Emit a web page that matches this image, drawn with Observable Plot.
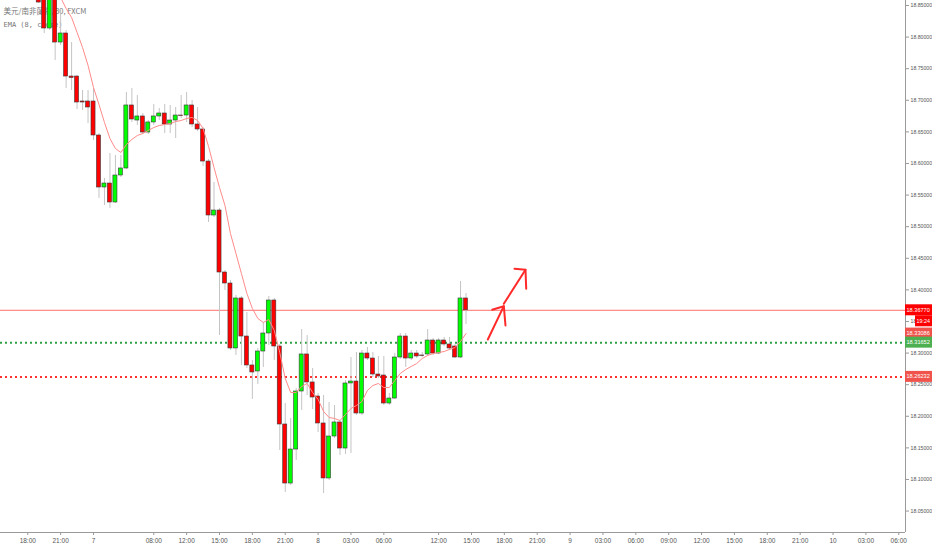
<!DOCTYPE html>
<html><head><meta charset="utf-8">
<script src="https://cdn.jsdelivr.net/npm/d3@7"></script>
<script src="https://cdn.jsdelivr.net/npm/@observablehq/plot@0.6"></script>
<style>
html,body{margin:0;padding:0;background:#fff;}
#chart{width:932px;height:550px;overflow:hidden;}
</style></head><body><div id="chart"></div>
<script>
// ---- data (30-minute candles, USD/ZAR) ----
const idx = d3.range(-1, 78);
const open = [
18.8737,18.8816,18.8136,18.8706,18.7914,18.8057,18.7376,18.7376,18.6981,18.6981,
18.6981,18.6443,18.5620,18.5683,18.5383,18.5810,18.5921,18.6918,18.6680,18.6744,
18.6490,18.6649,18.6744,18.6791,18.6617,18.6680,18.6759,18.6759,18.6918,18.6617,
18.6538,18.6031,18.5177,18.5256,18.4275,18.4101,18.3073,18.3864,18.3262,18.2804,
18.2709,18.3025,18.3310,18.3832,18.3104,18.1870,18.0936,18.1474,18.2392,18.2978,
18.2535,18.2313,18.1886,18.1016,18.1680,18.1902,18.1490,18.2519,18.2550,18.2044,
18.2993,18.2914,18.2661,18.2645,18.2202,18.2281,18.2930,18.3262,18.2914,18.2993,
18.2962,18.2978,18.3199,18.2993,18.3199,18.3136,18.3104,18.2930,18.3864];
const close = [
18.8547,18.8136,18.8706,18.7914,18.8057,18.7376,18.7353,18.6965,18.6965,18.6886,
18.6443,18.5620,18.5683,18.5383,18.5810,18.5921,18.6918,18.6696,18.6744,18.6490,
18.6649,18.6744,18.6791,18.6617,18.6680,18.6759,18.6751,18.6918,18.6617,18.6538,
18.6031,18.5177,18.5256,18.4275,18.4101,18.3073,18.3864,18.3262,18.2804,18.2693,
18.3025,18.3310,18.3832,18.3104,18.1870,18.0936,18.1474,18.2392,18.2978,18.2535,
18.2297,18.1886,18.1016,18.1680,18.1902,18.1490,18.2519,18.2550,18.2044,18.2993,
18.2914,18.2661,18.2630,18.2202,18.2281,18.2930,18.3262,18.2914,18.2993,18.2946,
18.2954,18.3199,18.2993,18.3199,18.3136,18.3073,18.2930,18.3864,18.3677];
const high = [
18.8769,18.8895,18.8769,18.8737,18.8421,18.8104,18.7914,18.7392,18.7155,18.7155,
18.7187,18.6475,18.5763,18.6158,18.6126,18.6126,18.7123,18.7187,18.7076,18.6791,
18.6680,18.6933,18.6870,18.6933,18.6918,18.6886,18.7076,18.7123,18.6997,18.6886,
18.6569,18.6063,18.5699,18.5288,18.4307,18.4149,18.3911,18.3895,18.3642,18.2883,
18.3073,18.3484,18.3895,18.3864,18.3136,18.2202,18.1965,18.2440,18.3373,18.3278,
18.2756,18.2361,18.2329,18.2218,18.2171,18.1933,18.2566,18.2930,18.3009,18.3041,
18.3088,18.3009,18.2946,18.2946,18.2361,18.2993,18.3310,18.3310,18.3041,18.3041,
18.3009,18.3373,18.3231,18.3231,18.3247,18.3247,18.3136,18.4133,18.3943];
const low = [
18.8532,18.8057,18.8104,18.7630,18.7867,18.7187,18.7155,18.6854,18.6838,18.6633,
18.6364,18.5446,18.5335,18.5288,18.5367,18.5778,18.5905,18.6649,18.6601,18.6459,
18.6459,18.6601,18.6680,18.6475,18.6475,18.6395,18.6712,18.6649,18.6569,18.6506,
18.5952,18.5066,18.5145,18.3278,18.3990,18.3041,18.2962,18.2804,18.2756,18.2266,
18.2503,18.2772,18.3120,18.2883,18.1459,18.0794,18.0905,18.1300,18.2092,18.2329,
18.2107,18.1743,18.0778,18.0984,18.1649,18.1380,18.1395,18.1411,18.2012,18.2012,
18.2883,18.2614,18.2598,18.2171,18.2171,18.2266,18.2899,18.2772,18.2883,18.2914,
18.2930,18.2946,18.2962,18.2978,18.3104,18.3041,18.2914,18.2914,18.3452];
// EMA (8, close) as drawn, starting at candle index 2
const emaFirst = 2;
const ema = [
18.8737,18.8626,18.8452,18.8310,18.8073,18.7835,18.7551,18.7202,18.6933,18.6649,
18.6395,18.6237,18.6174,18.6300,18.6380,18.6443,18.6475,18.6522,18.6569,18.6601,
18.6617,18.6633,18.6664,18.6680,18.6712,18.6728,18.6680,18.6554,18.6269,18.5937,
18.5620,18.5335,18.4892,18.4576,18.4259,18.3943,18.3706,18.3547,18.3484,18.3531,
18.3357,18.3009,18.2598,18.2376,18.2376,18.2471,18.2519,18.2376,18.2266,18.2076,
18.1981,18.1965,18.1933,18.2028,18.2123,18.2171,18.2234,18.2408,18.2487,18.2519,
18.2455,18.2455,18.2566,18.2677,18.2740,18.2788,18.2835,18.2914,18.2962,18.2993,
18.3009,18.3025,18.3057,18.3088,18.3183,18.33086];
// horizontal levels
const lastPrice = 18.36770;
const greenLevel = 18.31652;
const redLevel = 18.26232;
const countdown = "19:24";
// time axis (candle index -> label)
const xTickIdx = [-3,3,9,20,26,32,38,44,50,56,62,72,78,84,90,96,102,108,114,120,126,132,138,144,150,156];
const xTickLabels = ["18:00","21:00","7","08:00","12:00","15:00","18:00","21:00","8","03:00","06:00","12:00","15:00","18:00","21:00","9","03:00","06:00","09:00","12:00","15:00","18:00","21:00","10","03:00","06:00"];
const yTicks = d3.range(0, 17).map(k => +(18.05 + k * 0.05).toFixed(2));
const xDomain = [-7.98, 157.23];
const yDomain = [18.0161, 18.8579];
const legendLines = ["美元/南非蘭特, 30, FXCM", "EMA (8, close)"];
// hand-drawn arrows (candle index, price)
const arrowPts = [
  {g:"s1", i:80.98, p:18.3215}, {g:"s1", i:83.90, p:18.3742},
  {g:"h1", i:81.78, p:18.3685}, {g:"h1", i:83.90, p:18.3742}, {g:"h1", i:84.21, p:18.3437},
  {g:"s2", i:83.90, p:18.3780}, {g:"s2", i:87.86, p:18.4318},
  {g:"h2", i:85.85, p:18.4334}, {g:"h2", i:87.86, p:18.4318}, {g:"h2", i:87.99, p:18.4017}
];

// ---- build ----
const candles = idx.map((i, k) => ({i, o: open[k], h: high[k], l: low[k], c: close[k]}));
const emaData = ema.map((v, k) => ({i: emaFirst + k, v}));
const labelMap = new Map(xTickIdx.map((v, k) => [v, xTickLabels[k]]));
const FONT = "'Liberation Sans',sans-serif";
const UP = "#00ff00", DOWN = "#ff0000";

const chart = Plot.plot({
  width: 932, height: 550,
  marginLeft: 0, marginRight: 27, marginTop: 0, marginBottom: 18,
  style: {background: "#fff", fontFamily: FONT, color: "#555"},
  x: {domain: xDomain, label: null},
  y: {domain: yDomain, label: null},
  marks: [
    Plot.text([legendLines[0]], {frameAnchor: "top-left", dx: 3, dy: 8, fontSize: 7.5, fill: "#777", fontFamily: "'Noto Sans CJK TC','Liberation Sans',sans-serif"}),
    Plot.text([legendLines[1]], {frameAnchor: "top-left", dx: 3, dy: 21.5, fontSize: 7, fill: "#777", fontFamily: "'DejaVu Sans Mono',monospace"}),
    Plot.ruleY([lastPrice], {stroke: "#ff7070", strokeWidth: 1}),
    Plot.ruleY([greenLevel], {stroke: "#2ea043", strokeWidth: 2, strokeDasharray: "2,3"}),
    Plot.ruleY([redLevel], {stroke: "#ff3030", strokeWidth: 2, strokeDasharray: "2,3"}),
    Plot.ruleX(candles, {x: "i", y1: "l", y2: "h", stroke: "#c4c4c4", strokeWidth: 1, clip: true}),
    Plot.rect(candles, {
      x1: d => d.i - 0.37, x2: d => d.i + 0.37,
      y1: "o", y2: "c",
      fill: d => d.c >= d.o ? UP : DOWN,
      stroke: "#3a3a3a", strokeWidth: 0.6, clip: true
    }),
    Plot.line(emaData, {x: "i", y: "v", stroke: "#ff8a8a", strokeWidth: 1, clip: true}),
    Plot.line(arrowPts, {x: "i", y: "p", z: "g", stroke: "#ff2a2a", strokeWidth: 2, strokeLinecap: "round", strokeLinejoin: "round"}),
    Plot.ruleX([xDomain[1]], {stroke: "#9a9a9a"}),
    Plot.ruleY([yDomain[0]], {stroke: "#9a9a9a"}),
    Plot.axisY({anchor: "right", label: null, ticks: yTicks, tickFormat: d => d.toFixed(5), tickSize: 3, tickPadding: 2, fontSize: 5.2, stroke: "#999", fill: "#555"}),
    Plot.axisX({label: null, ticks: xTickIdx, tickFormat: d => labelMap.get(d), tickSize: 3, tickPadding: 3, fontSize: 6.5, stroke: "#999", fill: "#555"})
  ]
});

const svg = d3.select(chart);
// price tags on the right axis (positioned through the plot's own scales)
const ys = chart.scale("y"), xs = chart.scale("x");
const x0 = xs.apply(xDomain[1]);
const tags = [
  {v: lastPrice, text: lastPrice.toFixed(5), color: "#ff0000", off: 0, left: 0, fs: 5.6},
  {v: lastPrice, text: countdown, color: "#ff0000", off: 11, left: 10, fs: 5.4},
  {v: ema[ema.length - 1], text: ema[ema.length - 1].toFixed(5), color: "#f0534b", off: 0, left: 0, fs: 5.6},
  {v: greenLevel, text: greenLevel.toFixed(5), color: "#4caf50", off: 0, left: 0, fs: 5.6},
  {v: redLevel, text: redLevel.toFixed(5), color: "#f0534b", off: 0, left: 0, fs: 5.6}
];
const g = svg.append("g").attr("text-anchor", "start");
tags.forEach(t => {
  const cy = ys.apply(t.v) + t.off;
  g.append("rect").attr("x", x0 + t.left).attr("y", cy - 5.5).attr("width", 932 - x0 - t.left).attr("height", 11).attr("fill", t.color);
  g.append("text").attr("x", x0 + t.left + 1.5).attr("y", cy).attr("dy", "0.35em")
    .attr("text-anchor", "start")
    .attr("fill", "#fff").attr("font-size", t.fs).attr("font-family", FONT).text(t.text);
});

document.getElementById("chart").appendChild(chart);
</script>
</body></html>
